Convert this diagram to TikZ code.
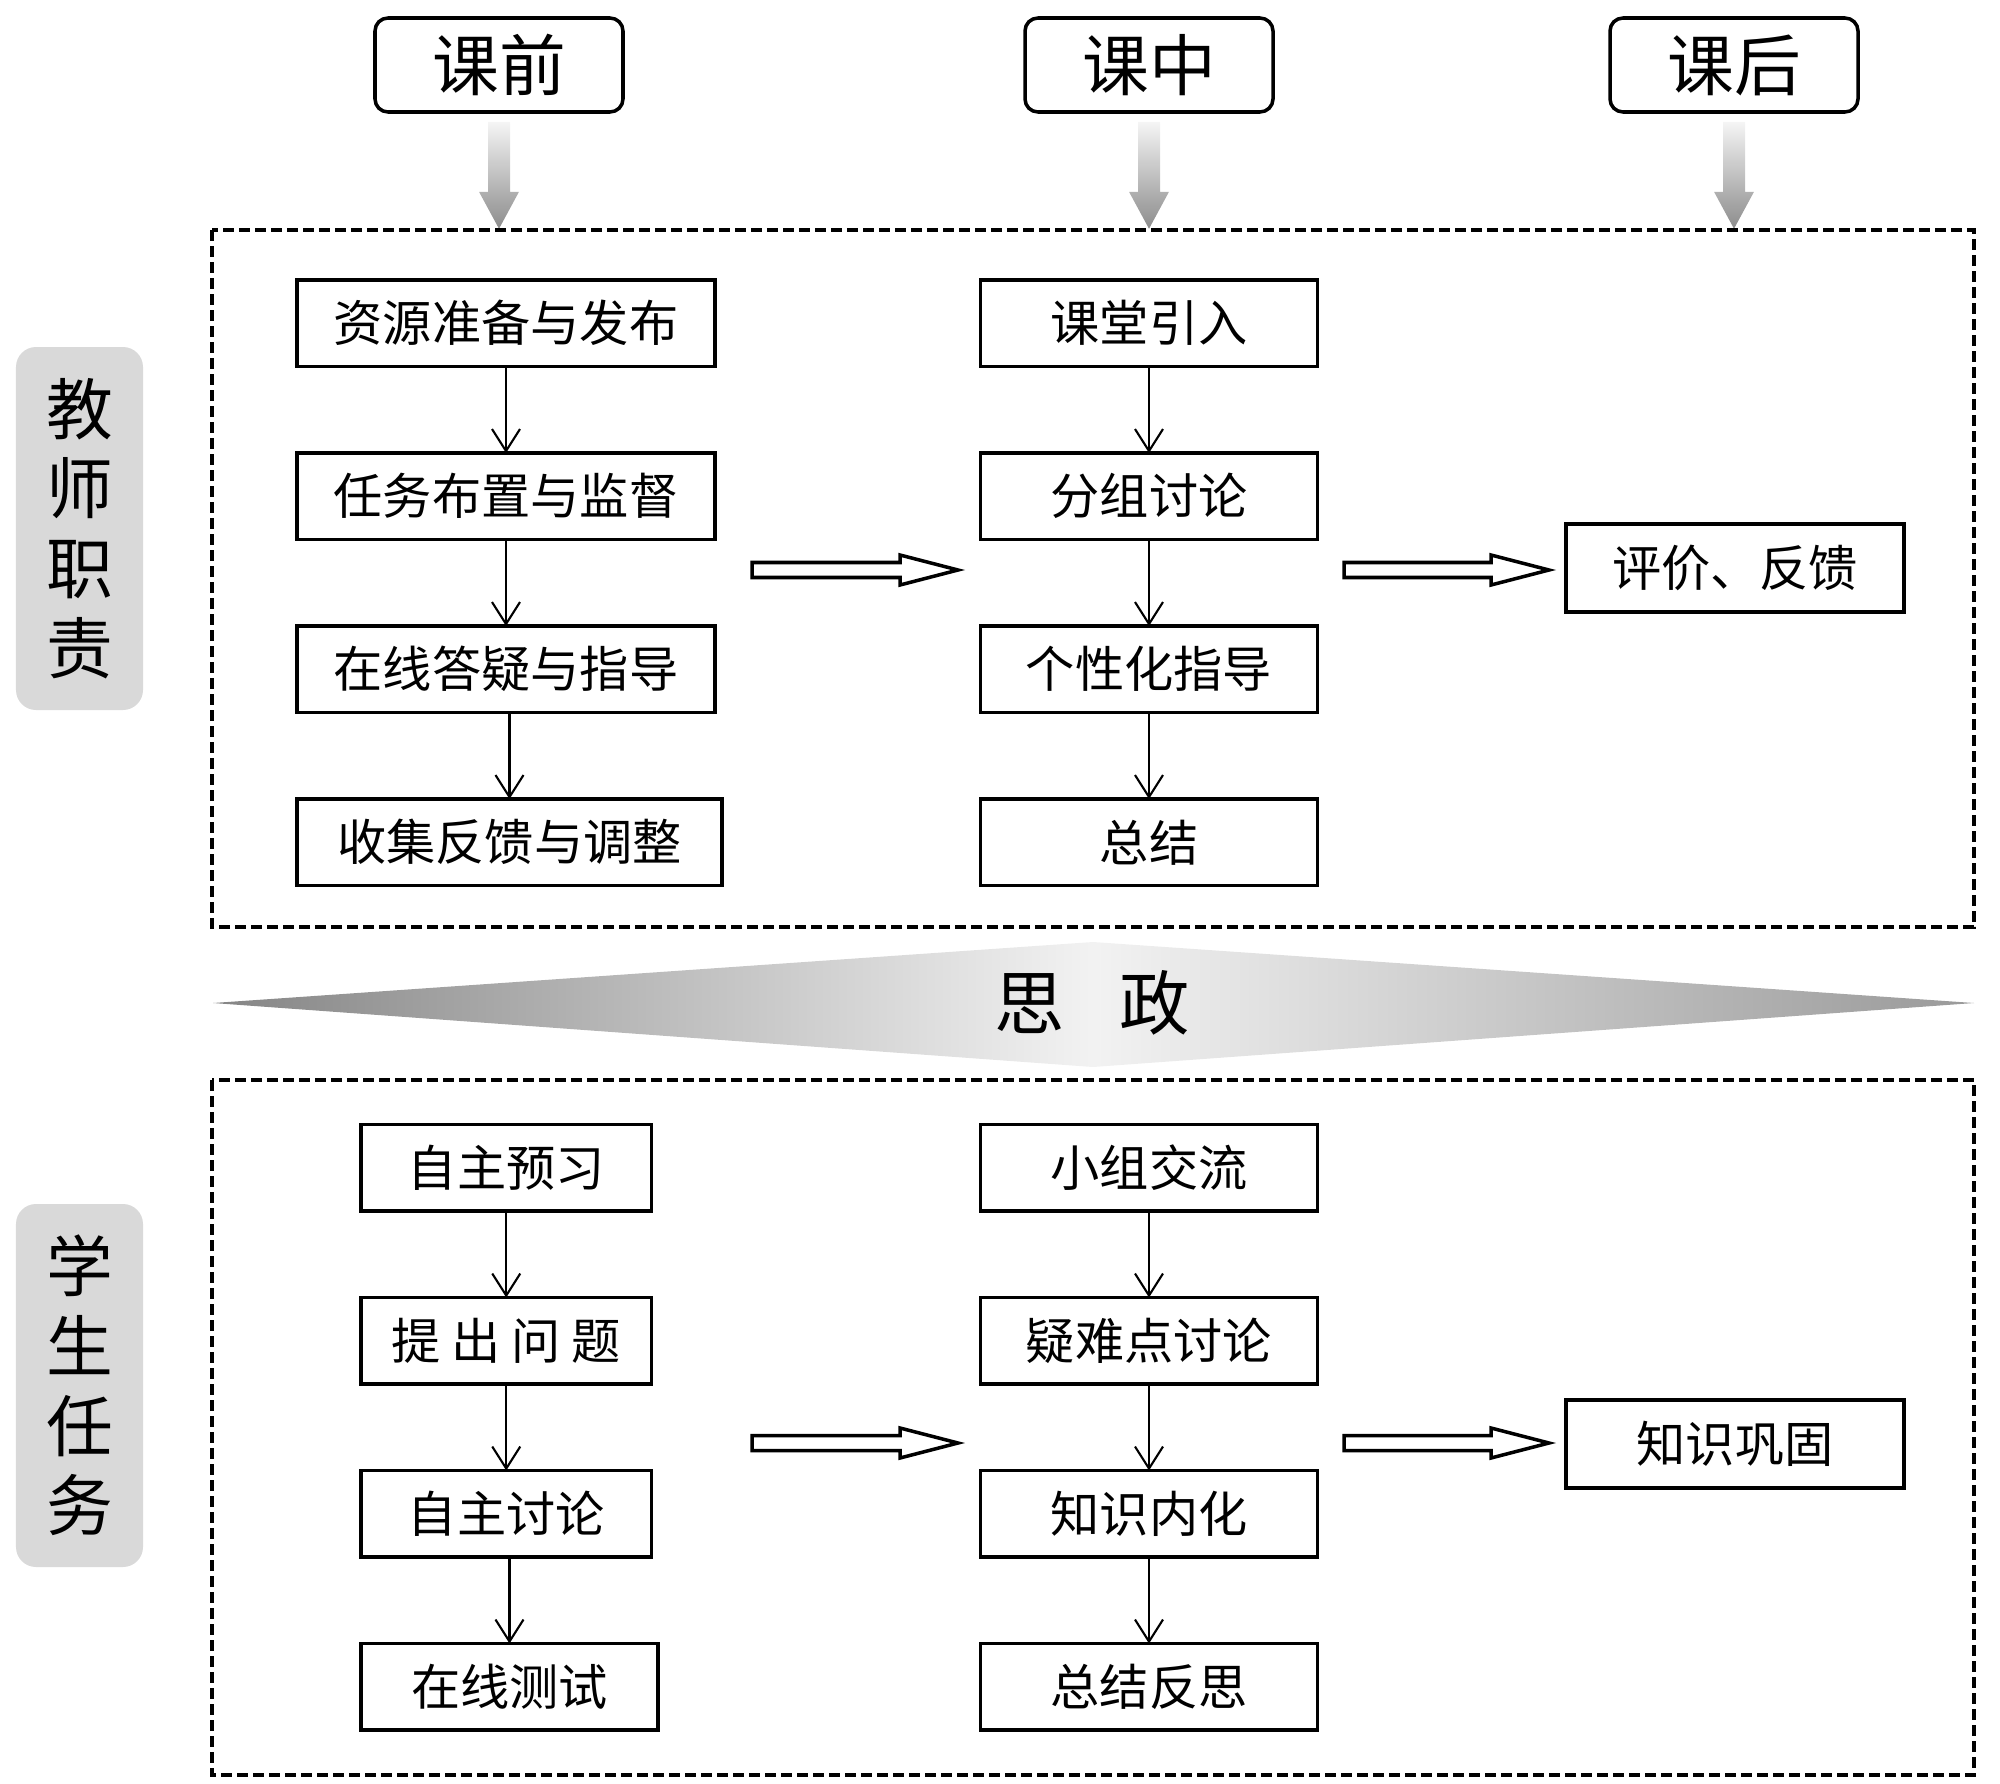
\documentclass[tikz,border=0pt]{standalone}
\usepackage{fontspec}
\setmainfont{Noto Sans CJK SC}
\usepackage{xcolor}
\usetikzlibrary{positioning,shapes,arrows.meta,calc}
\definecolor{labelgray}{RGB}{217,217,217}

\tikzset{
  taskbox/.style={rectangle, draw, line width=1.1pt, minimum height=0.865cm, inner sep=0pt, outer sep=0pt,
    font=\fontsize{14pt}{16pt}\selectfont},
  stagebox/.style={rectangle, draw, rounded corners=0.13cm, line width=1pt, minimum width=2.48cm,
    minimum height=0.94cm, inner sep=0pt, font=\fontsize{19pt}{22pt}\selectfont},
  rolebox/.style={rectangle, fill=labelgray, rounded corners=0.2cm, minimum width=1.27cm,
    minimum height=3.63cm, inner sep=0pt, align=center, font=\fontsize{19pt}{22.7pt}\selectfont},
  dashbox/.style={draw, line width=1.1pt, dash pattern=on 0.11cm off 0.05cm},
  flow/.style={->, line width=0.6pt}
}
% hollow block arrow between two coordinates
\newcommand{\hollowarrow}[2]{%
  \draw[line width=1pt, fill=white] ($(#1)+(0,0.075)$) -- ($(#2)+(-0.58,0.075)$) -- ($(#2)+(-0.58,0.15)$)
    -- (#2) -- ($(#2)+(-0.58,-0.15)$) -- ($(#2)+(-0.58,-0.075)$) -- ($(#1)+(0,-0.075)$) -- cycle;}
% shaded arrow under a stage box
\newcommand{\stagearrow}[1]{%
  \shade[top color=black!4, bottom color=black!45] ($(#1.south)+(-0.11,-0.08)$) -- ($(#1.south)+(0.11,-0.08)$)
    -- ($(#1.south)+(0.11,-0.78)$) -- ($(#1.south)+(0.20,-0.78)$) -- ($(#1.south)+(0,-1.15)$)
    -- ($(#1.south)+(-0.20,-0.78)$) -- ($(#1.south)+(-0.11,-0.78)$) -- cycle;}

\begin{document}
\begin{tikzpicture}[>={Straight Barb[length=0.22cm, width=0.28cm]}]
\useasboundingbox (0,0) rectangle (20,-17.84);

% stages
\node[stagebox] (pre) at (4.99,-0.65) {课前};
\node[stagebox] (mid) at (11.49,-0.65) {课中};
\node[stagebox] (post) at (17.34,-0.65) {课后};
\stagearrow{pre}
\stagearrow{mid}
\stagearrow{post}

% teacher part
\draw[dashbox] (2.12,-2.30) rectangle (19.74,-9.27);
\node[rolebox] (teacher) at (0.795,-5.285) {教\\师\\职\\责};

\node[taskbox, minimum width=4.18cm, anchor=north west] (t1) at (2.97,-2.80) {资源准备与发布};
\node[taskbox, minimum width=4.18cm, below=0.865cm of t1.south west, anchor=north west] (t2) {任务布置与监督};
\node[taskbox, minimum width=4.18cm, below=0.865cm of t2.south west, anchor=north west] (t3) {在线答疑与指导};
\node[taskbox, minimum width=4.25cm, below=0.865cm of t3.south west, anchor=north west] (t4) {收集反馈与调整};

\node[taskbox, minimum width=3.37cm, anchor=north west] (m1) at (9.805,-2.80) {课堂引入};
\node[taskbox, minimum width=3.37cm, below=0.865cm of m1] (m2) {分组讨论};
\node[taskbox, minimum width=3.37cm, below=0.865cm of m2] (m3) {个性化指导};
\node[taskbox, minimum width=3.37cm, below=0.865cm of m3] (m4) {总结};

\node[taskbox, minimum width=3.38cm, minimum height=0.88cm, anchor=north west] (r1) at (15.66,-5.24) {评价、反馈};

\draw[flow] (t1.south -| t2.north) -- (t2.north);
\draw[flow] (t2.south -| t3.north) -- (t3.north);
\draw[flow] (t3.south -| t4.north) -- (t4.north);
\draw[flow] (m1) -- (m2);
\draw[flow] (m2) -- (m3);
\draw[flow] (m3) -- (m4);

\coordinate (ta) at (7.52,-5.70);
\coordinate (tb) at (9.58,-5.70);
\coordinate (tc) at (13.44,-5.70);
\coordinate (td) at (15.49,-5.70);
\hollowarrow{ta}{tb}
\hollowarrow{tc}{td}

% band
\shade[left color=black!48, right color=black!40, middle color=black!5]
  (2.13,-10.03) -- (10.93,-9.42) -- (19.74,-10.03) -- (10.93,-10.67) -- cycle;
\node[font=\fontsize{20pt}{24pt}\selectfont] (sz) at (10.92,-10.03) {思\hspace{0.77em}政};

% student part
\draw[dashbox] (2.12,-10.80) rectangle (19.74,-17.75);
\node[rolebox] (student) at (0.795,-13.855) {学\\生\\任\\务};

\node[taskbox, minimum width=2.905cm, anchor=north west] (s1) at (3.61,-11.245) {自主预习};
\node[taskbox, minimum width=2.905cm, below=0.865cm of s1.south west, anchor=north west] (s2) {提 出 问 题};
\node[taskbox, minimum width=2.905cm, below=0.865cm of s2.south west, anchor=north west] (s3) {自主讨论};
\node[taskbox, minimum width=2.97cm, below=0.865cm of s3.south west, anchor=north west] (s4) {在线测试};

\node[taskbox, minimum width=3.37cm, anchor=north west] (n1) at (9.805,-11.245) {小组交流};
\node[taskbox, minimum width=3.37cm, below=0.865cm of n1] (n2) {疑难点讨论};
\node[taskbox, minimum width=3.37cm, below=0.865cm of n2] (n3) {知识内化};
\node[taskbox, minimum width=3.37cm, below=0.865cm of n3] (n4) {总结反思};

\node[taskbox, minimum width=3.38cm, minimum height=0.88cm, anchor=north west] (r2) at (15.66,-14.00) {知识巩固};

\draw[flow] (s1.south -| s2.north) -- (s2.north);
\draw[flow] (s2.south -| s3.north) -- (s3.north);
\draw[flow] (s3.south -| s4.north) -- (s4.north);
\draw[flow] (n1) -- (n2);
\draw[flow] (n2) -- (n3);
\draw[flow] (n3) -- (n4);

\coordinate (sa) at (7.52,-14.43);
\coordinate (sb) at (9.58,-14.43);
\coordinate (sc) at (13.44,-14.43);
\coordinate (sd) at (15.49,-14.43);
\hollowarrow{sa}{sb}
\hollowarrow{sc}{sd}
\end{tikzpicture}
\end{document}
